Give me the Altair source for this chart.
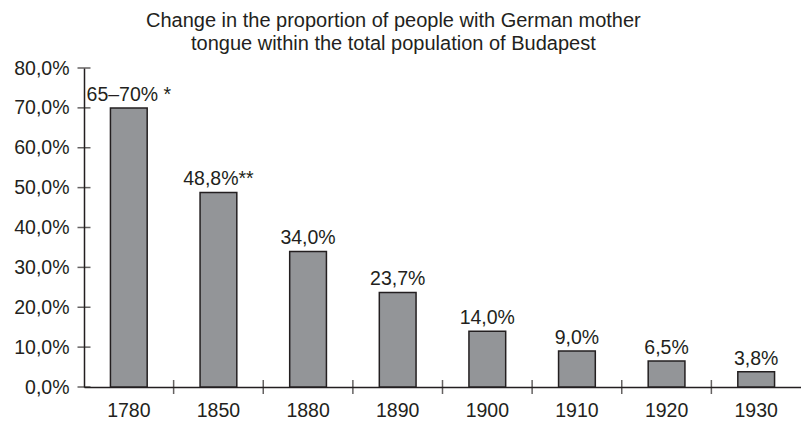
import altair as alt
import pandas as pd

years = ["1780", "1850", "1880", "1890", "1900", "1910", "1920", "1930"]
shares = [70.0, 48.8, 34.0, 23.7, 14.0, 9.0, 6.5, 3.8]
labels = ["65–70% *", "48,8%**", "34,0%", "23,7%", "14,0%", "9,0%", "6,5%", "3,8%"]
y_ticks = [0, 10, 20, 30, 40, 50, 60, 70, 80]
title_lines = [
    "Change in the proportion of people with German mother",
    "tongue within the total population of Budapest",
]

FONT = "Liberation Sans"
INK = "#231f20"
W = 717
H = 319
STEP = W / len(years)

df = pd.DataFrame({"year": years, "share": shares, "label": labels})
df_xt = pd.DataFrame({"year": years[1:]})
df_yt = pd.DataFrame({"v": y_ticks})

x_scale = alt.Scale(domain=years, paddingInner=0.59)
y_scale = alt.Scale(domain=[0, 80], nice=False)

x_axis = alt.Axis(
    title=None, labelAngle=0, ticks=False, labelPadding=14,
    labelFontSize=19.5, labelFont=FONT, labelColor=INK, labelOverlap=False,
    domainColor=INK, domainWidth=1.5, grid=False,
)
y_axis = alt.Axis(
    title=None, values=y_ticks, ticks=False, labelPadding=15, labelOverlap=False,
    labelExpr="replace(format(datum.value, '.1f'), '.', ',') + '%'",
    labelFontSize=19.5, labelFont=FONT, labelColor=INK,
    domainColor=INK, domainWidth=1.5, grid=False,
)

bars = alt.Chart(df).mark_bar(
    color="#939598", stroke=INK, strokeWidth=1.5
).encode(
    x=alt.X("year:N", scale=x_scale, sort=years, axis=x_axis),
    y=alt.Y("share:Q", scale=y_scale, axis=y_axis),
)

text = alt.Chart(df).mark_text(
    baseline="alphabetic", dy=-7, fontSize=19.5, font=FONT, color=INK
).encode(
    x=alt.X("year:N", scale=x_scale, sort=years, axis=x_axis),
    y=alt.Y("share:Q", scale=y_scale, axis=y_axis),
    text="label:N",
)

yticks = alt.Chart(df_yt).mark_tick(
    orient="horizontal", size=13, thickness=1.5, color=INK
).encode(x=alt.value(0), y=alt.Y("v:Q", scale=y_scale, axis=y_axis))

xticks = alt.Chart(df_xt).mark_tick(
    orient="vertical", size=14, thickness=1.5, color=INK, xOffset=-STEP / 2
).encode(
    x=alt.X("year:N", scale=x_scale, sort=years, axis=x_axis),
    y=alt.datum(0, scale=y_scale, axis=y_axis),
)

chart = alt.layer(bars, text, yticks, xticks).properties(
    width=W,
    height=H,
    padding={"left": 5, "right": 0, "top": 3, "bottom": 0},
    title=alt.TitleParams(
        title_lines, fontSize=20, font=FONT, color=INK, fontWeight="normal",
        anchor="middle", frame="bounds", dx=-14, lineHeight=23, offset=4,
    ),
).configure_view(stroke=None)

chart.save("out.html", embed_options={"renderer": "svg", "actions": False})
